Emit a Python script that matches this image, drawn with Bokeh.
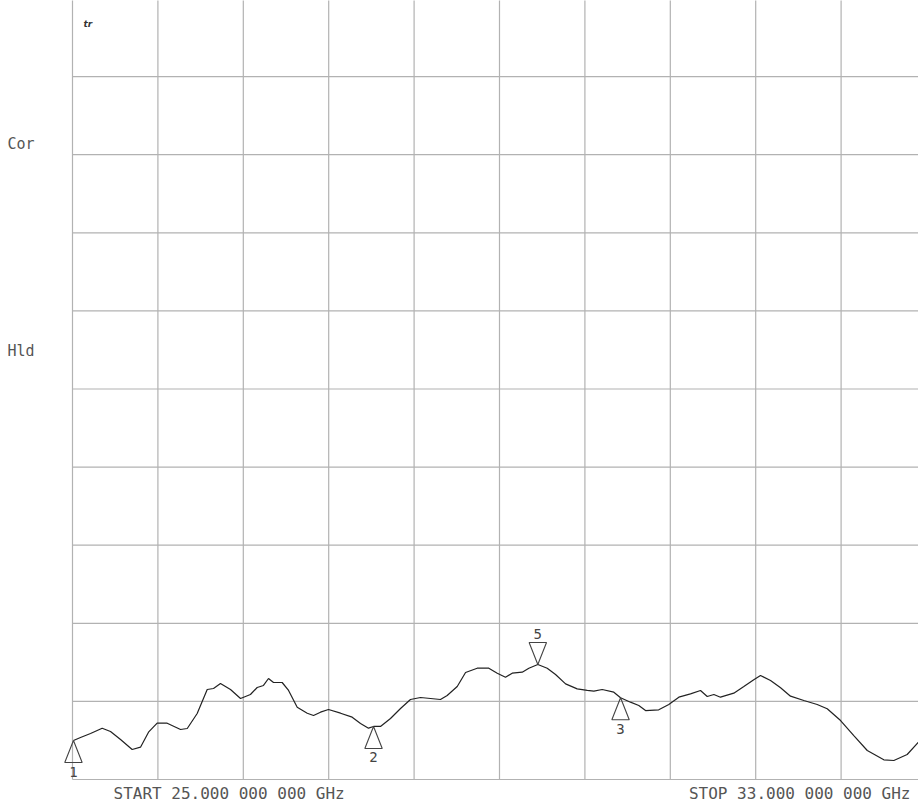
from bokeh.plotting import figure
from bokeh.models import Range1d, ColumnDataSource
from bokeh.core.properties import value
from bokeh.embed import file_html
from bokeh.resources import INLINE

# ---- data ----
freq_ghz = [25.009, 25.075, 25.169, 25.278, 25.356, 25.450, 25.559, 25.637, 25.712, 25.793,
            25.887, 26.012, 26.075, 26.168, 26.262, 26.321, 26.386, 26.480, 26.574, 26.667,
            26.730, 26.789, 26.836, 26.883, 26.964, 27.024, 27.105, 27.199, 27.258, 27.323,
            27.398, 27.511, 27.620, 27.698, 27.773, 27.820, 27.885, 27.979, 28.073, 28.166,
            28.260, 28.354, 28.447, 28.510, 28.604, 28.682, 28.791, 28.900, 28.979, 29.056,
            29.119, 29.213, 29.275, 29.359, 29.447, 29.525, 29.619, 29.728, 29.822, 29.884,
            29.962, 30.071, 30.134, 30.227, 30.305, 30.368, 30.492, 30.586, 30.680, 30.789,
            30.883, 30.946, 31.008, 31.070, 31.195, 31.289, 31.382, 31.445, 31.539, 31.633,
            31.726, 31.851, 31.976, 32.070, 32.195, 32.319, 32.445, 32.600, 32.694, 32.819,
            32.925, 33.000]
level_div = [0.499, 0.538, 0.589, 0.657, 0.615, 0.512, 0.384, 0.414, 0.606, 0.721,
             0.721, 0.640, 0.653, 0.845, 1.152, 1.165, 1.229, 1.152, 1.037, 1.088,
             1.178, 1.204, 1.293, 1.242, 1.242, 1.140, 0.926, 0.849, 0.819, 0.862,
             0.896, 0.849, 0.798, 0.717, 0.657, 0.679, 0.679, 0.781, 0.909, 1.024,
             1.050, 1.037, 1.024, 1.076, 1.191, 1.370, 1.425, 1.425, 1.361, 1.310,
             1.361, 1.374, 1.425, 1.472, 1.425, 1.344, 1.225, 1.161, 1.140, 1.131,
             1.152, 1.118, 1.046, 0.990, 0.948, 0.883, 0.892, 0.960, 1.054, 1.097,
             1.140, 1.063, 1.088, 1.054, 1.105, 1.191, 1.277, 1.332, 1.268, 1.174,
             1.067, 1.012, 0.960, 0.905, 0.755, 0.563, 0.371, 0.252, 0.243, 0.320,
             0.478, 0.563]

marker_ids = ["1", "2", "3", "5"]
marker_freq = [25.009, 27.820, 30.134, 29.359]
marker_level = [0.499, 0.679, 1.046, 1.472]
marker_dir = [1, 1, 1, -1]   # 1: triangle below trace, -1: triangle above

start_ghz = 25.0
stop_ghz = 33.0
n_div = 10
start_label = "START 25.000 000 000 GHz"
stop_label = "STOP 33.000 000 000 GHz"

# ---- geometry (pixels per unit) ----
px_per_ghz = 85.4 / 0.8
px_per_div = 78.1

W, H = 918, 805
x0 = start_ghz - 72 / px_per_ghz
x1 = x0 + W / px_per_ghz
y0 = -26 / px_per_div
y1 = y0 + H / px_per_div

p = figure(width=W, height=H, output_backend="svg", toolbar_location=None,
           x_axis_type=None, y_axis_type=None,
           x_range=Range1d(x0, x1), y_range=Range1d(y0, y1),
           min_border=0, min_border_left=0, min_border_right=0,
           min_border_top=0, min_border_bottom=0)
p.outline_line_color = None
p.background_fill_color = "white"
p.border_fill_color = "white"

grid_col = "#b2b2b2"
step = (stop_ghz - start_ghz) / n_div
vx = [start_ghz + i * step for i in range(n_div + 1)]
p.segment(x0=vx, y0=[0] * len(vx), x1=vx, y1=[n_div] * len(vx),
          line_color=grid_col, line_width=1.2)
hy = list(range(n_div + 1))
p.segment(x0=[start_ghz] * len(hy), y0=hy, x1=[stop_ghz] * len(hy), y1=hy,
          line_color=grid_col, line_width=1.2)

# trace
p.line(freq_ghz, level_div, line_color="#222222", line_width=1.2)

# markers
tri_h = 22 / px_per_div
tri_w = 8.7 / px_per_ghz
xs, ys = [], []
for f, v, d in zip(marker_freq, marker_level, marker_dir):
    xs.append([f, f - tri_w, f + tri_w])
    ys.append([v, v - d * tri_h, v - d * tri_h])
p.patches(xs, ys, fill_color=None, line_color="#444444", line_width=1.1)

lab_src = ColumnDataSource(dict(x=marker_freq, y=marker_level, t=marker_ids,
                                off=[31 * d for d in marker_dir]))
p.text(x="x", y="y", text="t", y_offset="off", source=lab_src,
       text_align="center", text_baseline="middle", text_color="#444444",
       text_font=value("DejaVu Sans Mono"), text_font_size="14px")

# side / bottom texts
txt_font = value("DejaVu Sans Mono")
side_x = x0 + 7 / px_per_ghz
p.text(x=[side_x, side_x], y=[(779 - 143) / px_per_div, (779 - 350) / px_per_div],
       text=["Cor", "Hld"], text_align="left", text_baseline="middle",
       text_color="#555555", text_font=txt_font, text_font_size="15px")

p.text(x=[start_ghz + 41 / px_per_ghz], y=[-14 / px_per_div], text=[start_label],
       text_align="left", text_baseline="middle", text_color="#555555",
       text_font=txt_font, text_font_size="16px")
p.text(x=[start_ghz + 838 / px_per_ghz], y=[-14 / px_per_div], text=[stop_label],
       text_align="right", text_baseline="middle", text_color="#555555",
       text_font=txt_font, text_font_size="16px")

p.text(x=[start_ghz + 11 / px_per_ghz], y=[(779 - 23) / px_per_div], text=["tr"],
       text_align="left", text_baseline="middle", text_color="#333333",
       text_font=value("DejaVu Sans"), text_font_size="9px", text_font_style="bold italic")

open("out.html", "w").write(file_html(p, INLINE))
